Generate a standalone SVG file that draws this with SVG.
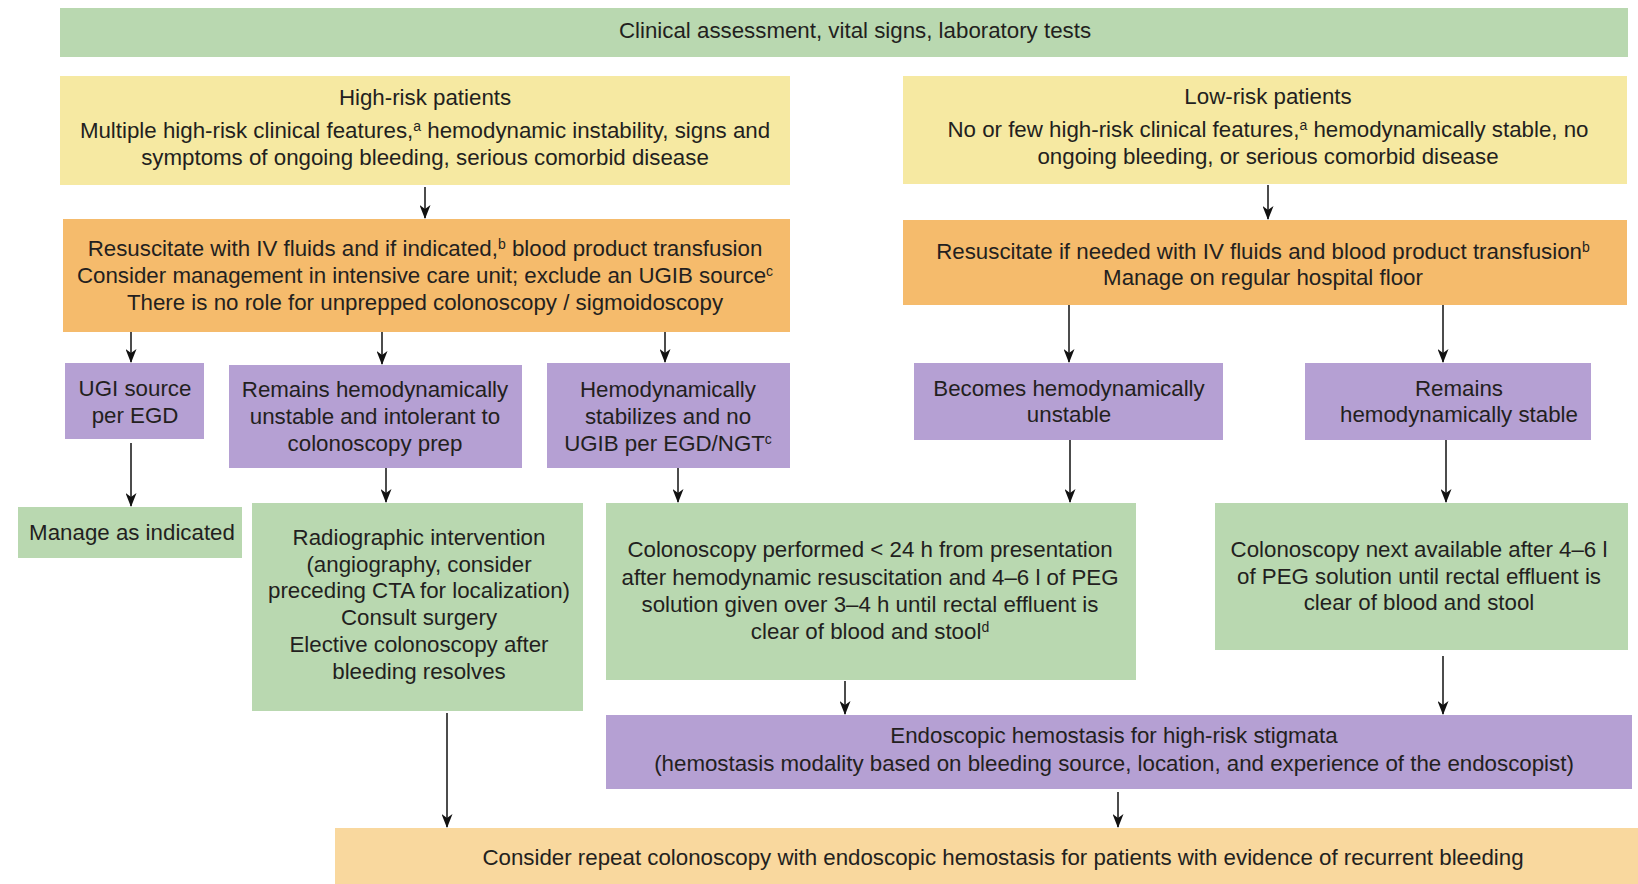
<svg xmlns="http://www.w3.org/2000/svg" width="1638" height="884" viewBox="0 0 1638 884">
<defs>
<style>
.t{font-family:"Liberation Sans",Arial,sans-serif;font-size:22.3px;fill:#231f20;text-anchor:middle}
.g{fill:#b9d8b0}.y{fill:#f6e9a2}.o{fill:#f5bb6c}.p{fill:#b5a0d3}.b{fill:#f9d89e}
.c{stroke:#111;stroke-width:1.5;fill:none;marker-end:url(#ah)}
.s{font-size:14px}
</style>
<marker id="ah" markerUnits="userSpaceOnUse" markerWidth="14" markerHeight="11" refX="13" refY="5.5" orient="auto" viewBox="0 0 14 11">
<path d="M0,0 L14,5.5 L0,11 L4,5.5 Z" fill="#111"/>
</marker>
</defs>
<rect width="1638" height="884" fill="#fff"/>
<g id="connectors">
<line class="c" x1="425" y1="187" x2="425" y2="218"/>
<line class="c" x1="1268" y1="185" x2="1268" y2="219"/>
<line class="c" x1="131" y1="332" x2="131" y2="362"/>
<line class="c" x1="382" y1="332" x2="382" y2="364"/>
<line class="c" x1="665" y1="332" x2="665" y2="362"/>
<line class="c" x1="1069" y1="305" x2="1069" y2="362"/>
<line class="c" x1="1443" y1="305" x2="1443" y2="362"/>
<line class="c" x1="131" y1="443" x2="131" y2="506"/>
<line class="c" x1="386" y1="468" x2="386" y2="502"/>
<line class="c" x1="678" y1="468" x2="678" y2="502"/>
<line class="c" x1="1070" y1="440" x2="1070" y2="502"/>
<line class="c" x1="1446" y1="440" x2="1446" y2="502"/>
<line class="c" x1="845" y1="681" x2="845" y2="714"/>
<line class="c" x1="1443" y1="656" x2="1443" y2="714"/>
<line class="c" x1="447" y1="713" x2="447" y2="827"/>
<line class="c" x1="1118" y1="792" x2="1118" y2="827"/>
</g>
<g id="n-assess">
<rect class="g" x="60" y="8" width="1568" height="49"/>
<text class="t" x="855" y="38">Clinical assessment, vital signs, laboratory tests</text>
</g>
<g id="n-highrisk">
<rect class="y" x="60" y="76" width="730" height="109"/>
<text class="t" x="425" y="105">High-risk patients</text>
<text class="t" x="425" y="138">Multiple high-risk clinical features,<tspan class="s" dy="-7">a</tspan><tspan dy="7"> hemodynamic instability, signs and</tspan></text>
<text class="t" x="425" y="165">symptoms of ongoing bleeding, serious comorbid disease</text>
</g>
<g id="n-lowrisk">
<rect class="y" x="903" y="76" width="724" height="108"/>
<text class="t" x="1268" y="104">Low-risk patients</text>
<text class="t" x="1268" y="137">No or few high-risk clinical features,<tspan class="s" dy="-7">a</tspan><tspan dy="7"> hemodynamically stable, no</tspan></text>
<text class="t" x="1268" y="164">ongoing bleeding, or serious comorbid disease</text>
</g>
<g id="n-resus-high">
<rect class="o" x="63" y="219" width="727" height="113"/>
<text class="t" x="425" y="256">Resuscitate with IV fluids and if indicated,<tspan class="s" dy="-7">b</tspan><tspan dy="7"> blood product transfusion</tspan></text>
<text class="t" x="425" y="283">Consider management in intensive care unit; exclude an UGIB source<tspan class="s" dy="-7">c</tspan></text>
<text class="t" x="425" y="310">There is no role for unprepped colonoscopy / sigmoidoscopy</text>
</g>
<g id="n-resus-low">
<rect class="o" x="903" y="220" width="724" height="85"/>
<text class="t" x="1263" y="259">Resuscitate if needed with IV fluids and blood product transfusion<tspan class="s" dy="-7">b</tspan></text>
<text class="t" x="1263" y="285">Manage on regular hospital floor</text>
</g>
<g id="n-ugi">
<rect class="p" x="65" y="363" width="139" height="76"/>
<text class="t" x="135" y="396">UGI source</text>
<text class="t" x="135" y="423">per EGD</text>
</g>
<g id="n-unstable">
<rect class="p" x="229" y="365" width="293" height="103"/>
<text class="t" x="375" y="397">Remains hemodynamically</text>
<text class="t" x="375" y="424">unstable and intolerant to</text>
<text class="t" x="375" y="451">colonoscopy prep</text>
</g>
<g id="n-stabilizes">
<rect class="p" x="547" y="363" width="243" height="105"/>
<text class="t" x="668" y="397">Hemodynamically</text>
<text class="t" x="668" y="424">stabilizes and no</text>
<text class="t" x="668" y="451">UGIB per EGD/NGT<tspan class="s" dy="-7">c</tspan></text>
</g>
<g id="n-becomes">
<rect class="p" x="914" y="363" width="309" height="77"/>
<text class="t" x="1069" y="396">Becomes hemodynamically</text>
<text class="t" x="1069" y="422">unstable</text>
</g>
<g id="n-stable">
<rect class="p" x="1305" y="363" width="286" height="77"/>
<text class="t" x="1459" y="396">Remains</text>
<text class="t" x="1459" y="422">hemodynamically stable</text>
</g>
<g id="n-manage">
<rect class="g" x="18" y="507" width="224" height="51"/>
<text class="t" x="132" y="540">Manage as indicated</text>
</g>
<g id="n-radio">
<rect class="g" x="252" y="503" width="331" height="208"/>
<text class="t" x="419" y="545">Radiographic intervention</text>
<text class="t" x="419" y="572">(angiography, consider</text>
<text class="t" x="419" y="598">preceding CTA for localization)</text>
<text class="t" x="419" y="625">Consult surgery</text>
<text class="t" x="419" y="652">Elective colonoscopy after</text>
<text class="t" x="419" y="679">bleeding resolves</text>
</g>
<g id="n-colon24">
<rect class="g" x="606" y="503" width="530" height="177"/>
<text class="t" x="870" y="557">Colonoscopy performed &lt; 24 h from presentation</text>
<text class="t" x="870" y="585">after hemodynamic resuscitation and 4–6 l of PEG</text>
<text class="t" x="870" y="612">solution given over 3–4 h until rectal effluent is</text>
<text class="t" x="870" y="639">clear of blood and stool<tspan class="s" dy="-7">d</tspan></text>
</g>
<g id="n-colonnext">
<rect class="g" x="1215" y="503" width="413" height="147"/>
<text class="t" x="1419" y="557">Colonoscopy next available after 4–6 l</text>
<text class="t" x="1419" y="584">of PEG solution until rectal effluent is</text>
<text class="t" x="1419" y="610">clear of blood and stool</text>
</g>
<g id="n-endo">
<rect class="p" x="606" y="715" width="1026" height="74"/>
<text class="t" x="1114" y="743">Endoscopic hemostasis for high-risk stigmata</text>
<text class="t" x="1114" y="771">(hemostasis modality based on bleeding source, location, and experience of the endoscopist)</text>
</g>
<g id="n-repeat">
<rect class="b" x="335" y="828" width="1303" height="56"/>
<text class="t" x="1003" y="865">Consider repeat colonoscopy with endoscopic hemostasis for patients with evidence of recurrent bleeding</text>
</g>
</svg>
